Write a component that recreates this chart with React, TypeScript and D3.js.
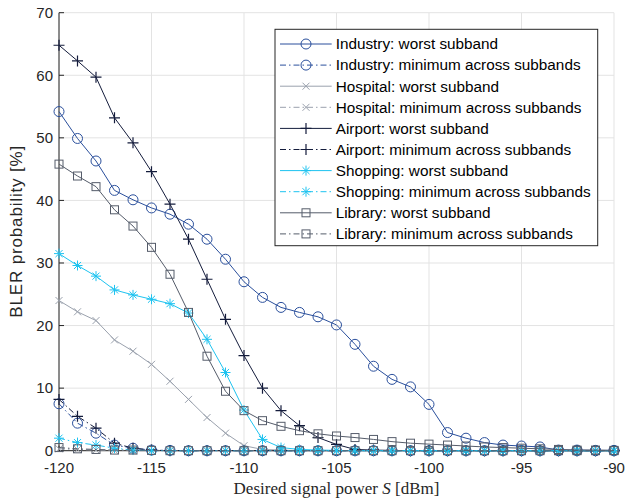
import React from "react";
import * as d3 from "d3";

const snr = d3.range(-120, -89, 1);

const industryWorst = [54.2, 49.9, 46.3, 41.6, 40.1, 38.8, 37.8, 36.2, 33.8, 30.6, 27.0, 24.5, 22.9, 22.1, 21.4, 20.1, 17.0, 13.5, 11.4, 10.2, 7.4, 2.9, 2.0, 1.3, 0.9, 0.75, 0.6, 0.1, 0.1, 0.05, 0.05];
const industryMin = [7.5, 4.4, 2.8, 0.9, 0.4, 0.1, 0.05, 0, 0, 0, 0, 0, 0, 0, 0, 0, 0, 0, 0, 0, 0, 0, 0, 0, 0, 0, 0, 0, 0, 0, 0];
const hospitalWorst = [24.0, 22.2, 20.8, 17.7, 15.9, 13.8, 11.1, 8.2, 5.3, 2.8, 0.8, 0.2, 0.1, 0, 0, 0, 0, 0, 0, 0, 0, 0, 0, 0, 0, 0, 0, 0, 0, 0, 0];
const hospitalMin = [0.3, 0.2, 0.1, 0.05, 0, 0, 0, 0, 0, 0, 0, 0, 0, 0, 0, 0, 0, 0, 0, 0, 0, 0, 0, 0, 0, 0, 0, 0, 0, 0, 0];
const airportWorst = [64.8, 62.3, 59.7, 53.2, 49.2, 44.6, 39.4, 33.8, 27.4, 21.0, 15.2, 10.0, 6.4, 4.0, 2.1, 1.0, 0.2, 0.1, 0.05, 0, 0, 0, 0, 0, 0, 0, 0, 0, 0, 0, 0];
const airportMin = [8.2, 5.5, 3.6, 1.2, 0.4, 0.1, 0, 0, 0, 0, 0, 0, 0, 0, 0, 0, 0, 0, 0, 0, 0, 0, 0, 0, 0, 0, 0, 0, 0, 0, 0];
const shoppingWorst = [31.5, 29.6, 27.9, 25.7, 24.9, 24.2, 23.5, 22.0, 17.8, 12.5, 6.5, 1.8, 0.5, 0.2, 0.1, 0.05, 0, 0, 0, 0, 0, 0, 0, 0, 0, 0, 0, 0, 0, 0, 0];
const shoppingMin = [2.0, 1.3, 0.9, 0.4, 0.1, 0, 0, 0, 0, 0, 0, 0, 0, 0, 0, 0, 0, 0, 0, 0, 0, 0, 0, 0, 0, 0, 0, 0, 0, 0, 0];
const libraryWorst = [45.8, 43.9, 42.2, 38.5, 35.9, 32.5, 28.2, 22.1, 15.1, 9.5, 6.4, 4.8, 3.9, 3.2, 2.7, 2.35, 2.1, 1.8, 1.45, 1.2, 1.05, 0.9, 0.75, 0.6, 0.5, 0.4, 0.3, 0.2, 0.1, 0.1, 0.05];
const libraryMin = [0.5, 0.3, 0.2, 0.1, 0.1, 0.05, 0, 0, 0, 0, 0, 0, 0, 0, 0, 0, 0, 0, 0, 0, 0, 0, 0, 0, 0, 0, 0, 0, 0, 0, 0];

const xTicks = [-120, -115, -110, -105, -100, -95, -90];
const yTicks = [0, 10, 20, 30, 40, 50, 60, 70];

type Marker = "circle" | "x" | "plus" | "star" | "square";

const seriesList: { name: string; values: number[]; color: string; dashed: boolean; marker: Marker }[] = [
  { name: "Industry: worst subband", values: industryWorst, color: "#2a4f9c", dashed: false, marker: "circle" },
  { name: "Industry: minimum across subbands", values: industryMin, color: "#2a4f9c", dashed: true, marker: "circle" },
  { name: "Hospital: worst subband", values: hospitalWorst, color: "#9aa1ad", dashed: false, marker: "x" },
  { name: "Hospital: minimum across subbands", values: hospitalMin, color: "#9aa1ad", dashed: true, marker: "x" },
  { name: "Airport: worst subband", values: airportWorst, color: "#141c3c", dashed: false, marker: "plus" },
  { name: "Airport: minimum across subbands", values: airportMin, color: "#141c3c", dashed: true, marker: "plus" },
  { name: "Shopping: worst subband", values: shoppingWorst, color: "#1ec3f0", dashed: false, marker: "star" },
  { name: "Shopping: minimum across subbands", values: shoppingMin, color: "#1ec3f0", dashed: true, marker: "star" },
  { name: "Library: worst subband", values: libraryWorst, color: "#555c6a", dashed: false, marker: "square" },
  { name: "Library: minimum across subbands", values: libraryMin, color: "#555c6a", dashed: true, marker: "square" },
];

const W = 626;
const H = 501;
const M = { left: 59, right: 12, top: 12.7, bottom: 50.3 };

function MarkerShape({ type, x, y, color }: { type: Marker; x: number; y: number; color: string }) {
  const common = { stroke: color, strokeWidth: 1, fill: "none" };
  if (type === "circle") return <circle cx={x} cy={y} r={5} {...common} />;
  if (type === "square") return <rect x={x - 4} y={y - 4} width={8} height={8} {...common} />;
  if (type === "plus")
    return <path d={`M${x - 5.5},${y}H${x + 5.5}M${x},${y - 5.5}V${y + 5.5}`} {...common} strokeWidth={1.2} />;
  if (type === "x")
    return <path d={`M${x - 3.5},${y - 3.5}L${x + 3.5},${y + 3.5}M${x - 3.5},${y + 3.5}L${x + 3.5},${y - 3.5}`} {...common} />;
  const s = 5;
  const d = s * 0.707;
  return (
    <path
      d={`M${x - s},${y}H${x + s}M${x},${y - s}V${y + s}M${x - d},${y - d}L${x + d},${y + d}M${x - d},${y + d}L${x + d},${y - d}`}
      {...common}
    />
  );
}

export default function App() {
  const x = d3.scaleLinear().domain([-120, -90]).range([M.left, W - M.right]);
  const y = d3.scaleLinear().domain([0, 70]).range([H - M.bottom, M.top]);
  const line = d3
    .line<number>()
    .x((_, i) => x(snr[i]))
    .y((v) => y(v));

  const font = "'Liberation Sans', Arial, Helvetica, sans-serif";
  const axisColor = "#262626";
  const legX = 275;
  const legY = 29.3;
  const legW = 322.7;
  const legH = 216.4;
  const rowH = 21.1;

  return (
    <svg width={W} height={H} style={{ position: "absolute", left: 0, top: 0, background: "#fff" }}>
      <rect width={W} height={H} fill="#fff" />
      {xTicks.map((t) => (
        <line key={"gx" + t} x1={x(t)} x2={x(t)} y1={y(0)} y2={y(70)} stroke="#e3e3e3" strokeWidth={1} />
      ))}
      {yTicks.map((t) => (
        <line key={"gy" + t} x1={x(-120)} x2={x(-90)} y1={y(t)} y2={y(t)} stroke="#e3e3e3" strokeWidth={1} />
      ))}
      <line x1={x(-120)} x2={x(-120)} y1={y(0)} y2={y(70)} stroke={axisColor} strokeWidth={1} />
      <line x1={x(-120)} x2={x(-90)} y1={y(0)} y2={y(0)} stroke={axisColor} strokeWidth={1} />
      {xTicks.map((t) => (
        <g key={"xt" + t}>
          <line x1={x(t)} x2={x(t)} y1={y(0)} y2={y(0) - 5} stroke={axisColor} />
          <text x={x(t)} y={y(0) + 22} textAnchor="middle" fontFamily={font} fontSize={15} fill={axisColor}>
            {t}
          </text>
        </g>
      ))}
      {yTicks.map((t) => (
        <g key={"yt" + t}>
          <line x1={x(-120)} x2={x(-120) + 5} y1={y(t)} y2={y(t)} stroke={axisColor} />
          <text x={x(-120) - 6} y={y(t) + 5.3} textAnchor="end" fontFamily={font} fontSize={15} fill={axisColor}>
            {t}
          </text>
        </g>
      ))}
      <text
        transform={`translate(22,${(y(0) + y(70)) / 2}) rotate(-90)`}
        textAnchor="middle"
        fontFamily={font}
        fontSize={17}
        textLength={172}
        lengthAdjust="spacing"
        fill={axisColor}
      >
        BLER probability [%]
      </text>
      <text
        x={(x(-120) + x(-90)) / 2}
        y={494}
        textAnchor="middle"
        fontFamily="'Liberation Serif', 'Times New Roman', serif"
        fontSize={17}
        fill={axisColor}
      >
        Desired signal power <tspan fontStyle="italic">S</tspan> [dBm]
      </text>
      {seriesList.map((s) => (
        <g key={s.name}>
          <path
            d={line(s.values) || ""}
            fill="none"
            stroke={s.color}
            strokeWidth={1}
            strokeDasharray={s.dashed ? "6,3,1.5,3" : undefined}
          />
          {s.values.map((v, i) => (
            <MarkerShape key={i} type={s.marker} x={x(snr[i])} y={y(v)} color={s.color} />
          ))}
        </g>
      ))}
      <rect x={legX} y={legY} width={legW} height={legH} fill="#fff" stroke={axisColor} strokeWidth={1} />
      {seriesList.map((s, i) => {
        const cy = legY + 14.7 + i * rowH;
        return (
          <g key={"leg" + s.name}>
            <line
              x1={280}
              x2={331.7}
              y1={cy}
              y2={cy}
              stroke={s.color}
              strokeWidth={1}
              strokeDasharray={s.dashed ? "6,3,1.5,3" : undefined}
            />
            <MarkerShape type={s.marker} x={306} y={cy} color={s.color} />
            <text x={335.7} y={cy + 5.3} fontFamily={font} fontSize={15.3} fill="#000">
              {s.name}
            </text>
          </g>
        );
      })}
    </svg>
  );
}
